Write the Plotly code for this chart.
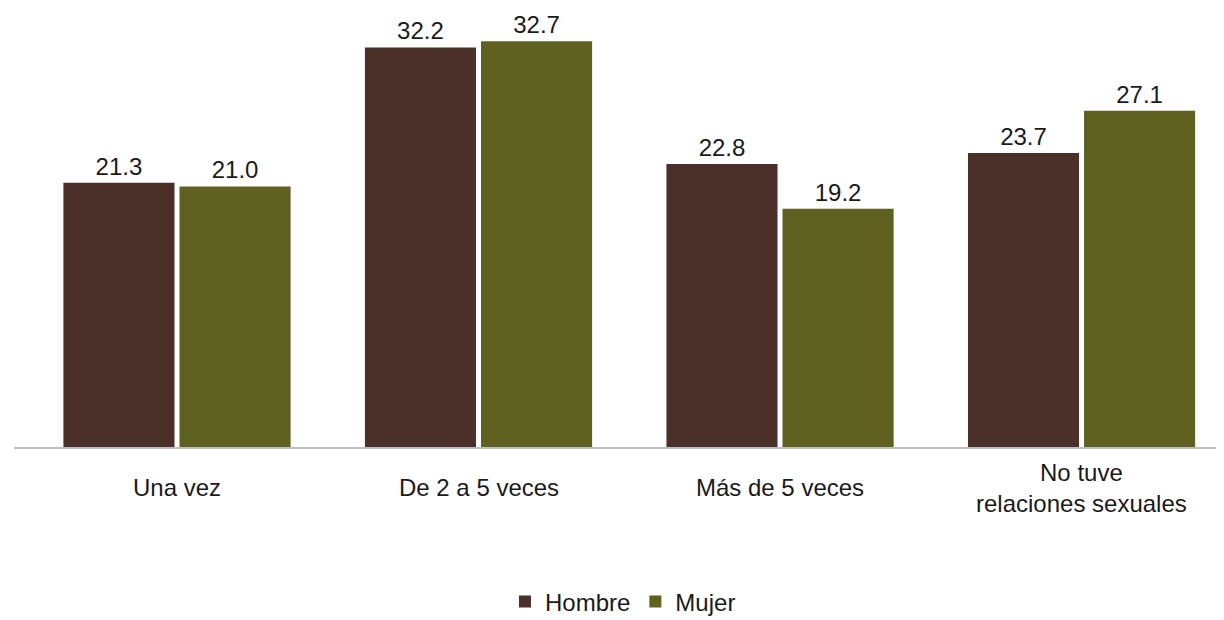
import plotly.graph_objects as go

categories = ["Una vez", "De 2 a 5 veces", "Más de 5 veces", "No tuve<br>relaciones sexuales"]
hombre = [21.3, 32.2, 22.8, 23.7]
mujer = [21.0, 32.7, 19.2, 27.1]
series_names = ["Hombre", "Mujer"]
colors = ["#4a3028", "#5e6120"]

FONT = "Liberation Sans, Arial, sans-serif"
FS = 24

fig = go.Figure()
for name, vals, col in zip(series_names, [hombre, mujer], colors):
    fig.add_trace(go.Bar(
        x=list(range(len(categories))), y=vals, name=name,
        marker=dict(color=col, line=dict(width=0)),
        text=[f"{v:.1f}" for v in vals], textposition="outside",
        textfont=dict(family=FONT, size=FS, color="#1a1a1a"),
        cliponaxis=False,
    ))

for i, c in enumerate(categories):
    fig.add_annotation(x=i, xref="x", y=-0.095, yref="paper", text=c,
                       showarrow=False, yanchor="middle", xanchor="center",
                       font=dict(family=FONT, size=FS, color="#1a1a1a"))

fig.update_layout(
    width=1224, height=620,
    margin=dict(l=6, r=0, t=12, b=181),
    paper_bgcolor="white", plot_bgcolor="white",
    barmode="group", bargap=0.23, bargroupgap=0.043,
    showlegend=True,
    legend=dict(orientation="h", x=0.5, xanchor="center", y=-0.363, yanchor="middle",
                font=dict(family=FONT, size=FS, color="#1a1a1a"), traceorder="normal"),
    xaxis=dict(range=[-0.5406, 3.499], showticklabels=False, showgrid=False,
               showline=True, linecolor="#bfbfbf", linewidth=2, zeroline=False, ticks=""),
    yaxis=dict(range=[0, 34.41], visible=False, showgrid=False, zeroline=False),
)

fig.write_html("out.html")
